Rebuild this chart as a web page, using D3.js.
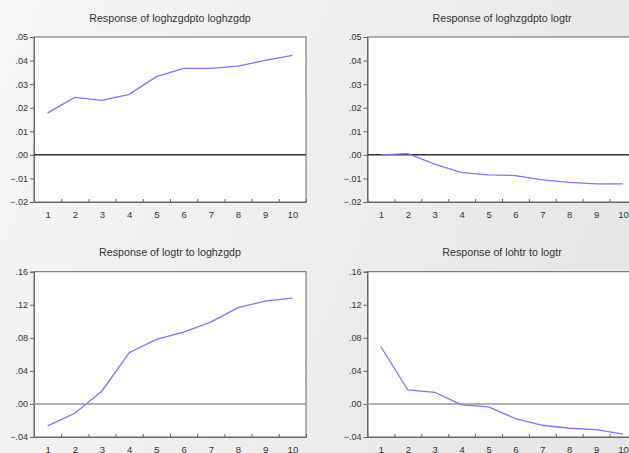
<!DOCTYPE html>
<html><head><meta charset="utf-8">
<script src="https://cdn.jsdelivr.net/npm/d3@7"></script>
<style>body{margin:0;overflow:hidden}svg{display:block}</style>
</head><body>
<svg id="c" width="629" height="453"></svg>
<script>
const periods = [1,2,3,4,5,6,7,8,9,10];
const titles = ["Response of loghzgdpto loghzgdp","Response of loghzgdpto logtr","Response of logtr to loghzgdp","Response of lohtr to logtr"];
const s1 = [0.0178,0.0244,0.0231,0.0257,0.0332,0.0367,0.0367,0.0376,0.0401,0.0422];
const s2 = [0.0000,0.0005,-0.0039,-0.0075,-0.0085,-0.0088,-0.0106,-0.0117,-0.0123,-0.0123];
const s3 = [-0.0266,-0.0113,0.0157,0.0620,0.0780,0.0870,0.0990,0.1164,0.1245,0.1280];
const s4 = [0.0692,0.0169,0.0141,-0.0012,-0.0036,-0.0178,-0.0258,-0.0294,-0.0310,-0.0366];
const topTicks = [-0.02,-0.01,0,0.01,0.02,0.03,0.04,0.05];
const botTicks = [-0.04,0,0.04,0.08,0.12,0.16];
const series = [s1,s2,s3,s4];

const svg = d3.select("#c");
const defs = svg.append("defs");
const g = defs.append("linearGradient").attr("id","bg").attr("x1","0").attr("x2","1").attr("y1","0").attr("y2","0.3");
g.append("stop").attr("offset","0").attr("stop-color","#f7f7f7");
g.append("stop").attr("offset","1").attr("stop-color","#e7e7e7");
svg.append("rect").attr("width",629).attr("height",453).attr("fill","url(#bg)");

const fmt = v => { if (Math.abs(v) < 1e-9) return ".00"; const s = d3.format(".2f")(v); return s.replace("0.", ".").replace("-", "- "); };
const FF = "Liberation Sans, Arial, sans-serif";

const panels = [
  {x0:34, x1:306, y0:37, y1:202, dom:[-0.02,0.05], ticks:topTicks, tx:170, ty:22, zc:"#333"},
  {x0:367.5, x1:636.5, y0:37, y1:202, dom:[-0.02,0.05], ticks:topTicks, tx:502, ty:22, zc:"#333"},
  {x0:34, x1:306, y0:271.7, y1:437, dom:[-0.04,0.16], ticks:botTicks, tx:170, ty:256, zc:"#999"},
  {x0:367.5, x1:636.5, y0:271.7, y1:437, dom:[-0.04,0.16], ticks:botTicks, tx:502, ty:256, zc:"#999"}
];

panels.forEach((p,i) => {
  const x = d3.scaleLinear().domain([0.5,10.5]).range([p.x0,p.x1]);
  const y = d3.scaleLinear().domain(p.dom).range([p.y1,p.y0]);
  const gp = svg.append("g");
  gp.append("rect").attr("x",p.x0).attr("y",p.y0).attr("width",p.x1-p.x0).attr("height",p.y1-p.y0)
    .attr("fill","#fff").attr("stroke","#666").attr("stroke-width",1);
  gp.append("text").attr("x",p.tx).attr("y",p.ty).attr("text-anchor","middle")
    .attr("font-family",FF).attr("font-size",10.7).attr("fill","#333").text(titles[i]);
  const ya = gp.append("g").attr("transform",`translate(${p.x0},0)`)
    .call(d3.axisLeft(y).tickValues(p.ticks).tickFormat(fmt).tickSize(4).tickPadding(2));
  ya.select(".domain").attr("stroke","#666");
  ya.selectAll(".tick line").attr("stroke","#666");
  ya.selectAll("text").attr("font-family",FF).attr("font-size",9).attr("fill","#333");
  const xa = gp.append("g").attr("transform",`translate(0,${p.y1})`)
    .call(d3.axisBottom(x).tickValues(d3.range(0.5,10.6,1)).tickFormat("").tickSizeInner(-3).tickSizeOuter(0));
  xa.select(".domain").attr("stroke","#666");
  xa.selectAll(".tick line").attr("stroke","#666");
  const xl = gp.append("g").attr("transform",`translate(0,${p.y1})`)
    .call(d3.axisBottom(x).tickValues(periods).tickFormat(d3.format("d")).tickSize(0).tickPadding(9));
  xl.select(".domain").remove();
  xl.selectAll("text").attr("font-family",FF).attr("font-size",9.5).attr("fill","#333");
  gp.append("line").attr("x1",p.x0).attr("x2",p.x1).attr("y1",y(0)).attr("y2",y(0))
    .attr("stroke",p.zc).attr("stroke-width",1.5);
  const line = d3.line().x((d,j)=>x(periods[j])).y(d=>y(d));
  gp.append("path").datum(series[i]).attr("d",line).attr("fill","none")
    .attr("stroke","#7878ff").attr("stroke-width",1.3);
});
</script>
</body></html>
